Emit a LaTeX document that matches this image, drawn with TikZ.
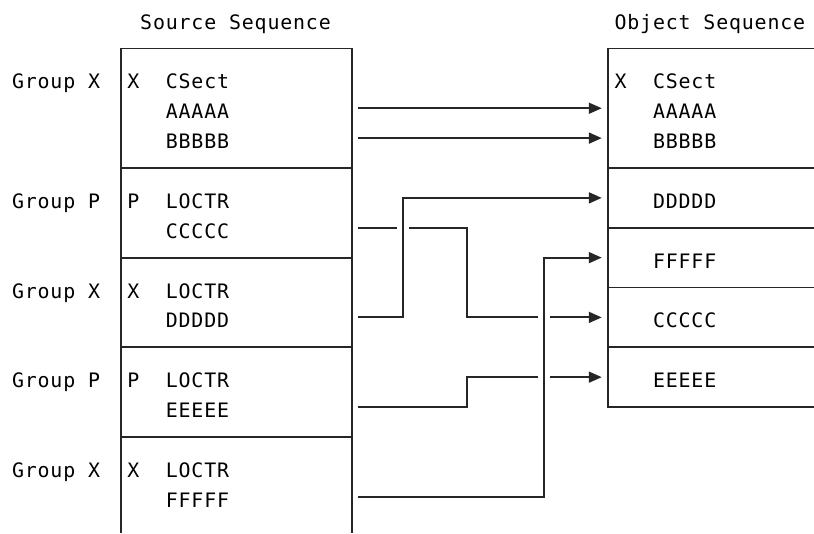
\documentclass[tikz,border=0pt]{standalone}
\usepackage{fontspec}
\newfontfamily\diagmono[LetterSpace=4.2]{DejaVu Sans Mono}
\usetikzlibrary{arrows.meta}
\newcommand\colx[1]{121+12.82*(#1)}
\newcommand\rowy[1]{18.6+29.88*(#1)}
\begin{document}
\begin{tikzpicture}[x=1pt,y=-1pt,
  txt/.style={font=\diagmono\fontsize{19.9pt}{24pt}\selectfont, anchor=base west, inner sep=0pt, outer sep=0pt},
  rule/.style={line width=1.9pt, draw=black!85},
  conn/.style={line width=1.9pt, draw=black!85},
  arr/.style={conn, -{Triangle[length=13pt,width=11pt]}}]
\useasboundingbox (0,0) rectangle (814,533);

% ---------- source box ----------
\draw[rule] ({\colx{0}},533) -- ({\colx{0}},{\rowy{1}}) -- ({\colx{18}},{\rowy{1}}) -- ({\colx{18}},533);
\foreach \r in {5,8,11,14}
  \draw[rule] ({\colx{0}},{\rowy{\r}}) -- ({\colx{18}},{\rowy{\r}});

% ---------- object box ----------
\draw[rule] (814,{\rowy{1}}) -- ({\colx{38}},{\rowy{1}}) -- ({\colx{38}},{\rowy{13}}) -- (814,{\rowy{13}});
\foreach \r in {5,7,9,11}
  \draw[rule] ({\colx{38}},{\rowy{\r}}) -- (814,{\rowy{\r}});

% ---------- titles ----------
\node[txt] (srcTitle) at ({\colx{2}-6.41},{\rowy{0}+10.5}) {Source Sequence};
\node[txt] (objTitle) at ({\colx{39}-6.41},{\rowy{0}+10.5}) {Object Sequence};

% ---------- source texts ----------
\foreach \r/\g/\i in {2/X/1,6/P/2,9/X/3,12/P/4,15/X/5} {
  \node[txt] (grp\i) at ({\colx{-8}-6.41},{\rowy{\r}+10.5}) {Group \g};
  \node[txt] (let\i) at ({\colx{1}-6.41},{\rowy{\r}+10.5}) {\g};
}
\foreach \r/\t in {2/CSect,3/AAAAA,4/BBBBB,6/LOCTR,7/CCCCC,9/LOCTR,10/DDDDD,12/LOCTR,13/EEEEE,15/LOCTR,16/FFFFF}
  \node[txt] (src\r) at ({\colx{4}-6.41},{\rowy{\r}+10.5}) {\t};

% ---------- object texts ----------
\node[txt] (objX) at ({\colx{39}-6.41},{\rowy{2}+10.5}) {X};
\foreach \r/\t in {2/CSect,3/AAAAA,4/BBBBB,6/DDDDD,8/FFFFF,10/CCCCC,12/EEEEE}
  \node[txt] (obj\r) at ({\colx{42}-6.41},{\rowy{\r}+10.5}) {\t};

% ---------- connector end points ----------
\foreach \n/\r in {A/3,B/4,C/7,D/10,E/13,F/16}
  \coordinate (s\n) at ({\colx{19}-6.41},{\rowy{\r}});
\foreach \n/\r in {A/3,B/4,D/6,F/8,C/10,E/12}
  \coordinate (t\n) at ({\colx{37}+6.41},{\rowy{\r}});

% ---------- connectors ----------
\draw[arr] (sA) -- (tA);
\draw[arr] (sB) -- (tB);
\draw[arr] (sD) -- ({\colx{22}},{\rowy{10}}) -- ({\colx{22}},{\rowy{6}}) -- (tD);
\draw[arr] (sF) -- ({\colx{33}},{\rowy{16}}) -- ({\colx{33}},{\rowy{8}}) -- (tF);
\draw[conn] (sC) -- ({\colx{22}-6.41},{\rowy{7}});
\draw[conn] ({\colx{22}+6.41},{\rowy{7}}) -- ({\colx{27}},{\rowy{7}}) -- ({\colx{27}},{\rowy{10}}) -- ({\colx{33}-6.41},{\rowy{10}});
\draw[arr] ({\colx{33}+6.41},{\rowy{10}}) -- (tC);
\draw[conn] (sE) -- ({\colx{27}},{\rowy{13}}) -- ({\colx{27}},{\rowy{12}}) -- ({\colx{33}-6.41},{\rowy{12}});
\draw[arr] ({\colx{33}+6.41},{\rowy{12}}) -- (tE);
\end{tikzpicture}
\end{document}
